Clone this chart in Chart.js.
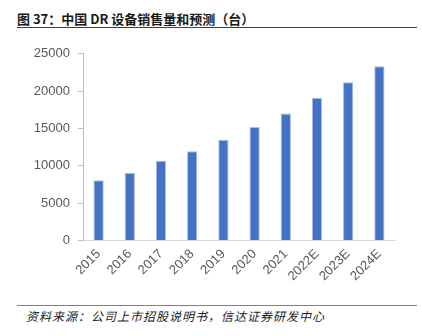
<!DOCTYPE html>
<html>
<head>
<meta charset="utf-8">
<script src="https://cdn.jsdelivr.net/npm/chart.js@4"></script>
<style>
    body { margin: 0; background: #fff; width: 422px; height: 336px; position: relative; overflow: hidden; }
    .title { position: absolute; left: 17px; top: 9px; font: bold 13px "Noto Sans CJK SC", sans-serif; color: #1a1a1a; }
    .rule { position: absolute; left: 17px; width: 400px; height: 1px; background: #404040; }
    .source { position: absolute; left: 26px; top: 307px; font: italic 12px "Noto Sans CJK SC", sans-serif; letter-spacing: 1.0px; color: #1a1a1a; }
    #wrap { position: absolute; left: 0; top: 38px; width: 422px; height: 252px; }
</style>
</head>
<body>
<div class="title">图 37：中国 DR 设备销售量和预测（台）</div>
<div class="rule" style="top: 27px;"></div>
<div id="wrap"><canvas id="salesChart"></canvas></div>
<div class="rule" style="top: 305px; background: #808080;"></div>
<div class="source">资料来源：公司上市招股说明书，信达证券研发中心</div>
<script>
const years = ["2015", "2016", "2017", "2018", "2019", "2020", "2021", "2022E", "2023E", "2024E"];
const sales = [8050, 9030, 10660, 11950, 13500, 15180, 16990, 19080, 21200, 23330];
const yTicks = [0, 5000, 10000, 15000, 20000, 25000];

document.addEventListener("DOMContentLoaded", function () {
    const ctx = document.getElementById("salesChart").getContext("2d");

    new Chart(ctx, {
        type: "bar",
        data: {
            labels: years,
            datasets: [{
                label: "销售量",
                data: sales,
                backgroundColor: "#4472C4",
                borderColor: "#A9BEE6",
                borderWidth: { top: 1, left: 1, right: 1, bottom: 0 },
                barPercentage: 0.33,
                categoryPercentage: 1
            }]
        },
        options: {
            responsive: true,
            maintainAspectRatio: false,
            animation: false,
            layout: { padding: { top: 0, right: 27, left: 0, bottom: 0 } },
            plugins: {
                legend: { display: false },
                tooltip: { enabled: false }
            },
            scales: {
                x: {
                    grid: { display: false, drawTicks: false },
                    border: { color: "#D9D9D9", width: 1 },
                    ticks: {
                        color: "#595959",
                        font: { family: "Liberation Sans, Arial, sans-serif", size: 13 },
                        maxRotation: 45,
                        minRotation: 45,
                        padding: 6
                    }
                },
                y: {
                    min: 0,
                    max: 25000,
                    afterBuildTicks: function (scale) {
                        scale.ticks = yTicks.map(v => ({ value: v }));
                    },
                    afterFit: function (scale) {
                        scale.width = 83;
                    },
                    grid: { drawOnChartArea: false, tickLength: 5, color: "#BFBFBF" },
                    border: { color: "#BFBFBF", width: 1 },
                    ticks: {
                        color: "#595959",
                        font: { family: "Liberation Sans, Arial, sans-serif", size: 13 },
                        padding: 8,
                        callback: v => String(v)
                    }
                }
            }
        }
    });
});
</script>
</body>
</html>
